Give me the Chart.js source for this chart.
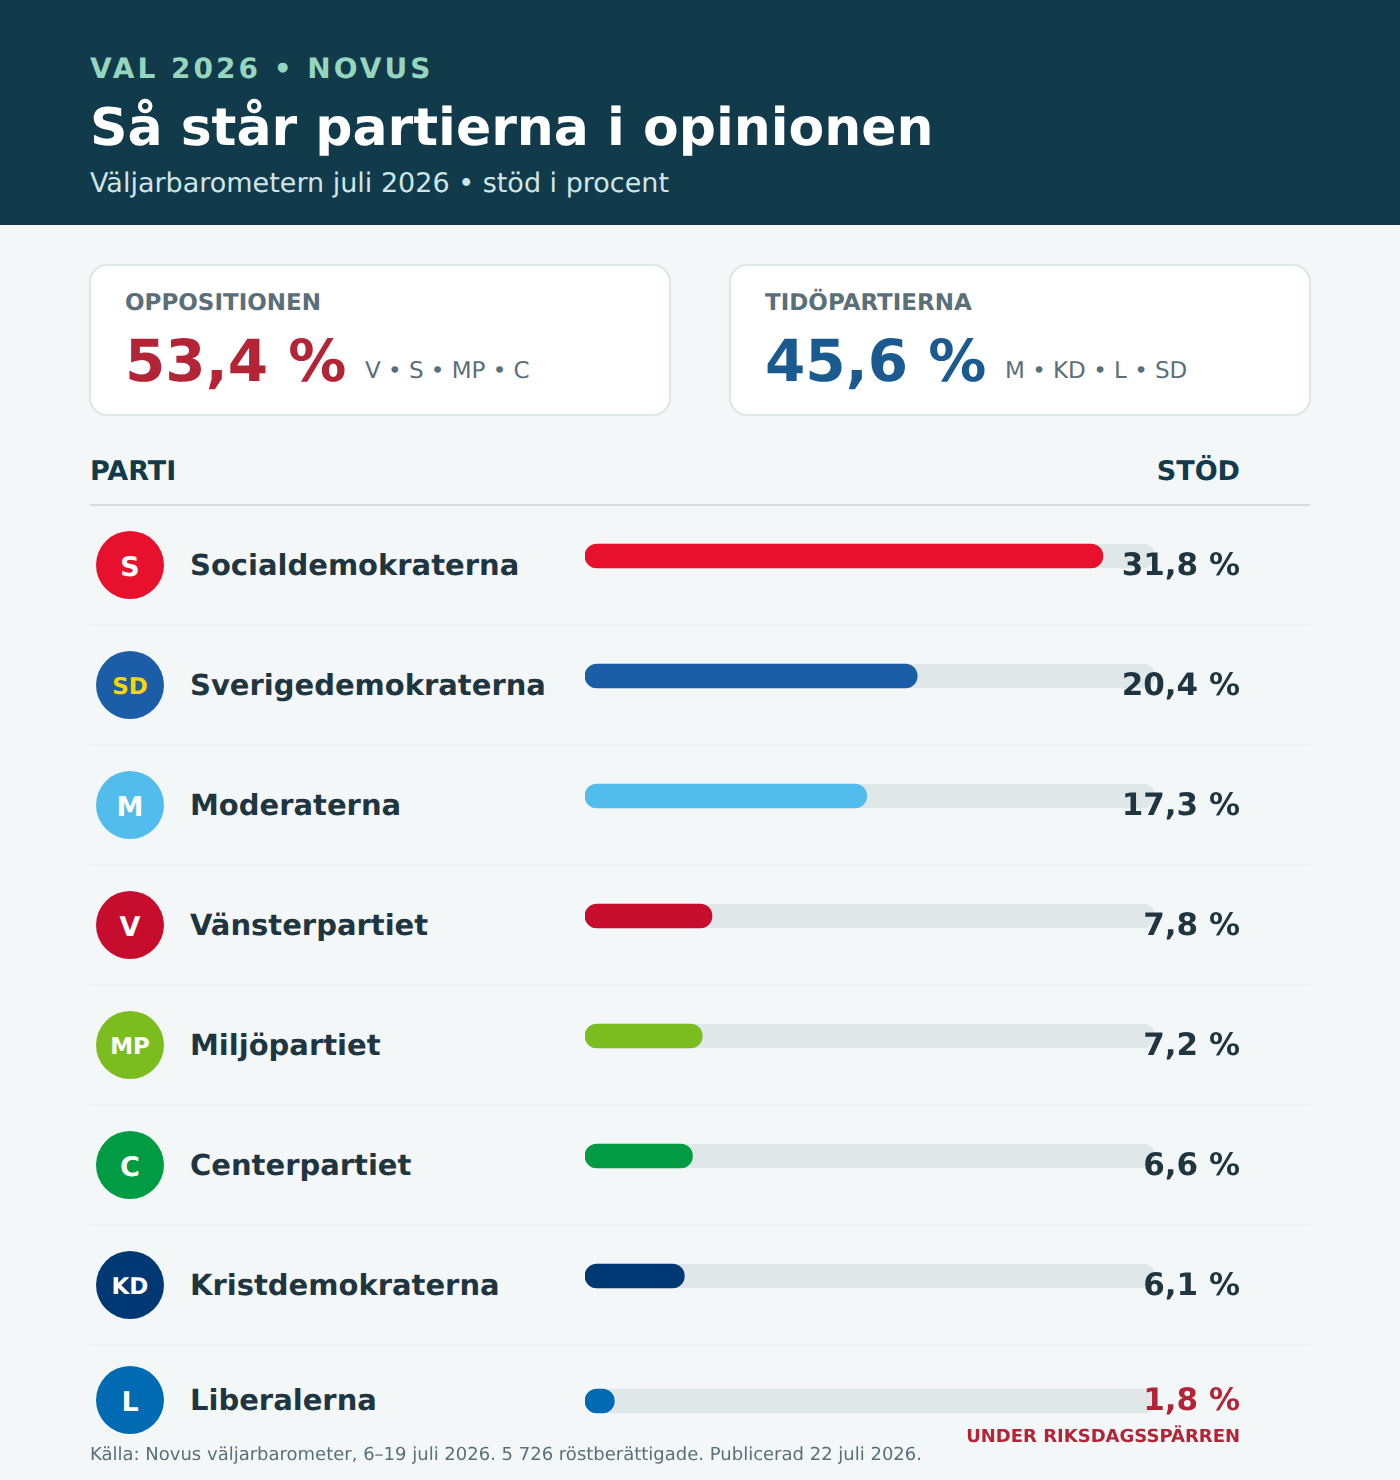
<!DOCTYPE html>
<html lang="sv">
<head>
<meta charset="utf-8">
<title>Så står partierna i opinionen</title>
<script src="https://cdn.jsdelivr.net/npm/chart.js@4"></script>
<style>
  html, body { margin: 0; padding: 0; }
  body { width: 1400px; height: 1480px; position: relative; overflow: hidden; background: #f4f7f8; font-family: "DejaVu Sans", sans-serif; color: #1f3540; text-rendering: geometricPrecision; }
  .t { position: absolute; white-space: nowrap; line-height: 1; }
  .r { text-align: right; }
  #head { position: absolute; left: 0; top: 0; width: 1400px; height: 225px; background: #113a4a; }
  .card { position: absolute; top: 264px; width: 578px; height: 148px; background: #fff; border: 2px solid #dce6e6; border-radius: 18px; }
  .rule { position: absolute; left: 90px; width: 1220px; height: 2px; background: #edf1f2; }
  .badge { position: absolute; left: 96px; width: 68px; height: 68px; border-radius: 50%; color: #fff; font-weight: 700; display: flex; align-items: center; justify-content: center; }
  canvas { position: absolute; left: 585px; }
</style>
</head>
<body>
<div id="head"></div>
<div class="t" style="left:90px;top:55px;font-size:28px;font-weight:700;letter-spacing:3px;color:#96d5be">VAL 2026 • NOVUS</div>
<div class="t" style="left:90px;top:102px;font-size:52px;font-weight:700;color:#fff">Så står partierna i opinionen</div>
<div class="t" style="left:90px;top:170px;font-size:27px;color:#cfe5e8">Väljarbarometern juli 2026 • stöd i procent</div>

<div class="card" style="left:89px"></div>
<div class="card" style="left:729px"></div>
<div class="t" style="left:125px;top:292px;font-size:23px;font-weight:700;color:#5a6f78">OPPOSITIONEN</div>
<div class="t" style="left:125px;top:332px;font-size:58px;font-weight:700;color:#b32437">53,4 %</div>
<div class="t" style="left:365px;top:360px;font-size:23px;color:#5a6f78">V • S • MP • C</div>
<div class="t" style="left:765px;top:292px;font-size:23px;font-weight:700;color:#5a6f78">TIDÖPARTIERNA</div>
<div class="t" style="left:765px;top:332px;font-size:58px;font-weight:700;color:#1b5a8f">45,6 %</div>
<div class="t" style="left:1005px;top:360px;font-size:23px;color:#5a6f78">M • KD • L • SD</div>

<div class="t" style="left:90px;top:458px;font-size:27px;font-weight:700;color:#113a4a">PARTI</div>
<div class="t r" style="right:160px;top:458px;font-size:27px;font-weight:700;color:#113a4a">STÖD</div>
<div class="rule" style="top:504px;background:#d3dcde"></div>

<canvas id="mainBars" width="570" height="840" style="top:496px;width:570px;height:840px"></canvas>
<canvas id="lastBar" width="570" height="120" style="top:1341px;width:570px;height:120px"></canvas>
<div id="rows"></div>

<div class="t r" style="right:160px;top:1428px;font-size:18px;font-weight:700;color:#b32437">UNDER RIKSDAGSSPÄRREN</div>
<div class="t" style="left:90px;top:1446px;font-size:18px;color:#5a6f78">Källa: Novus väljarbarometer, 6–19 juli 2026. 5 726 röstberättigade. Publicerad 22 juli 2026.</div>

<script>
const parties = ['Socialdemokraterna', 'Sverigedemokraterna', 'Moderaterna', 'Vänsterpartiet', 'Miljöpartiet', 'Centerpartiet', 'Kristdemokraterna', 'Liberalerna'];
const codes = ['S', 'SD', 'M', 'V', 'MP', 'C', 'KD', 'L'];
const support = [31.8, 20.4, 17.3, 7.8, 7.2, 6.6, 6.1, 1.8];
const colors = ['#e8112d', '#1c5da8', '#52bdec', '#c70d2e', '#7bbc1e', '#009b43', '#003874', '#006ab3'];
const trackMax = 35;

function renderBars(id, labels, values, barColors) {
    new Chart(document.getElementById(id), {
        type: 'bar',
        data: {
            labels: labels,
            datasets: [{
                // the value bar goes first so it is painted over the track
                data: values,
                backgroundColor: barColors,
                borderRadius: 12,
                borderSkipped: false,
                barThickness: 24,
                grouped: false
            }, {
                data: values.map(() => trackMax),
                backgroundColor: '#e0e7e8',
                borderRadius: 12,
                borderSkipped: false,
                barThickness: 24,
                grouped: false
            }]
        },
        options: {
            indexAxis: 'y',
            responsive: false,
            animation: false,
            devicePixelRatio: 1,
            layout: { padding: 0 },
            plugins: { legend: { display: false }, tooltip: { enabled: false } },
            scales: {
                x: { display: false, min: 0, max: trackMax },
                y: { display: false }
            }
        }
    });
}

// Liberalerna sits a little lower than the regular rows, so it gets its own canvas
renderBars('mainBars', parties.slice(0, 7), support.slice(0, 7), colors.slice(0, 7));
renderBars('lastBar', parties.slice(7), support.slice(7), colors.slice(7));

const rows = document.getElementById('rows');
parties.forEach((name, i) => {
    const last = i === parties.length - 1;
    const cy = last ? 1400 : 565 + i * 120;
    const fontSize = codes[i].length > 1 ? 23 : 27;
    const codeColor = codes[i] === 'SD' ? '#ffd500' : '#fff';
    const valueColor = last ? '#b32437' : '#1f3540';
    const value = support[i].toFixed(1).replace('.', ',') + ' %';
    rows.insertAdjacentHTML('beforeend',
        `<div class="badge" style="top:${cy - 34}px;background:${colors[i]};color:${codeColor};font-size:${fontSize}px"><span style="position:relative;top:2px">${codes[i]}</span></div>` +
        `<div class="t" style="left:190px;top:${cy - 14}px;font-size:29px;font-weight:700">${name}</div>` +
        `<div class="t r" style="right:160px;top:${cy - 15}px;font-size:31px;font-weight:700;color:${valueColor}">${value}</div>` +
        (last ? '' : `<div class="rule" style="top:${cy + 59}px"></div>`));
});
</script>
</body>
</html>
